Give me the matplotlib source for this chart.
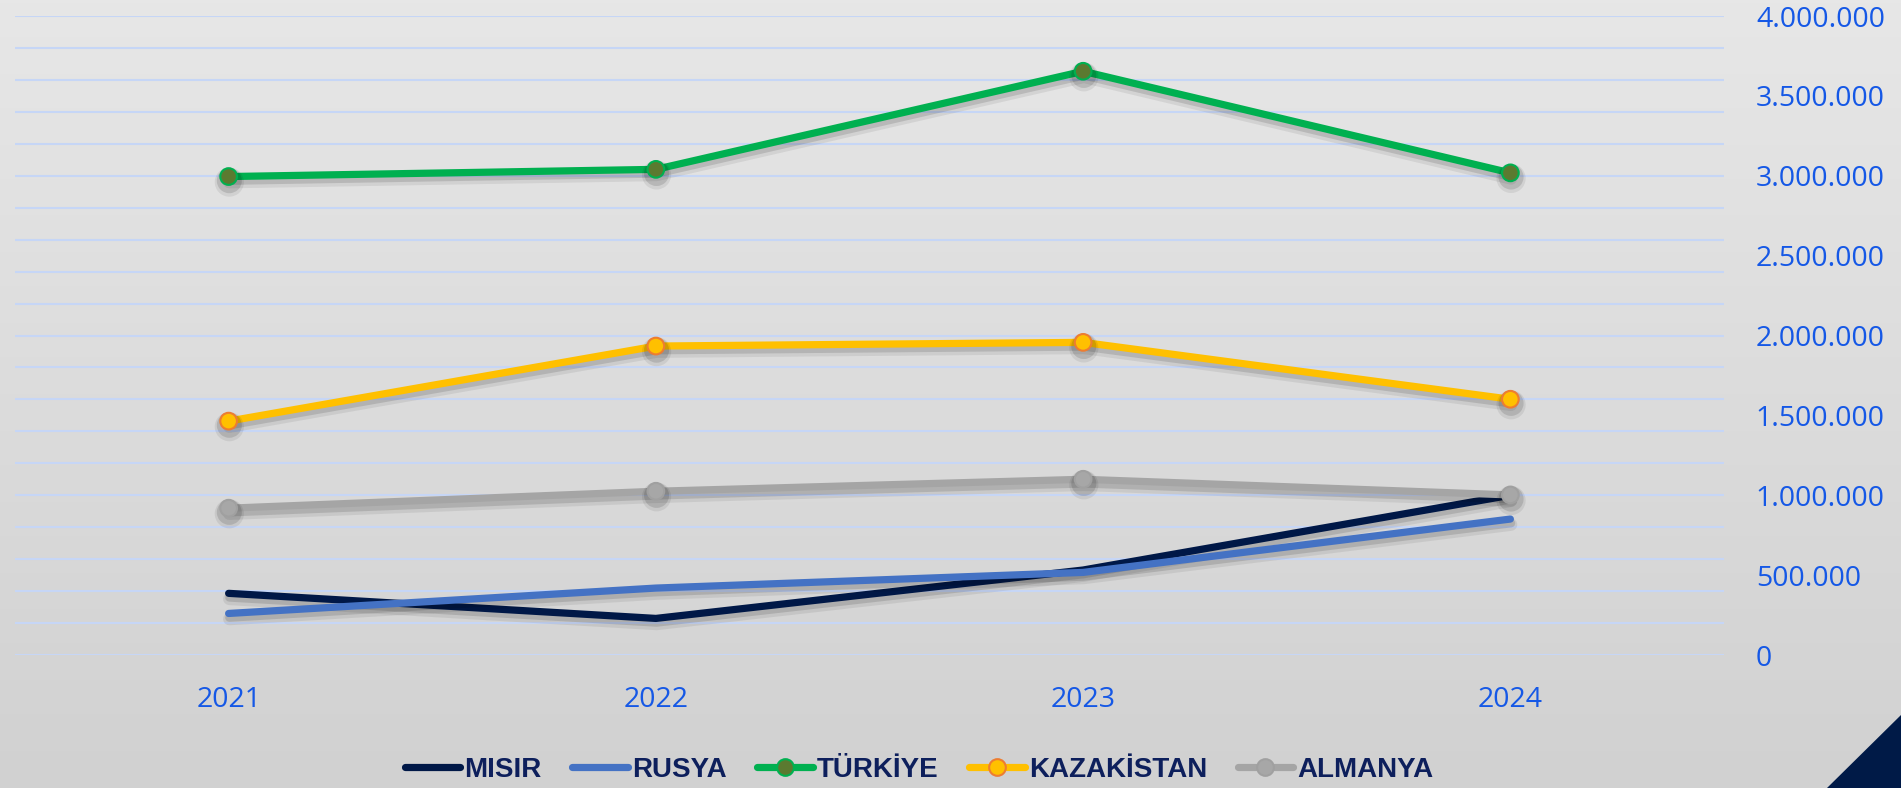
import numpy as np
import matplotlib
matplotlib.use('Agg')
import matplotlib.pyplot as plt
import matplotlib.patheffects as pe
from matplotlib.patches import Polygon
from matplotlib.ticker import FuncFormatter, MultipleLocator

# --- data ---
years = ['2021', '2022', '2023', '2024']
misir = [386000, 229000, 532000, 1000000]
rusya = [260000, 419000, 517000, 851000]
turkiye = [2995000, 3040000, 3654000, 3018000]
kazakistan = [1464000, 1934000, 1957000, 1601000]
almanya = [919000, 1025000, 1100000, 1002000]

W, H, DPI = 1901, 788, 100
fig = plt.figure(figsize=(W / DPI, H / DPI), dpi=DPI)

# gradient background
bg = fig.add_axes([0, 0, 1, 1], zorder=-10)
grad = np.linspace(231, 209, 256).reshape(-1, 1) / 255.0
bg.imshow(np.dstack([grad, grad, grad]), aspect='auto', extent=[0, 1, 0, 1])
bg.axis('off')

# navy corner triangle
fig.patches.append(Polygon([[1827 / W, 0], [1, 1 - 715 / H], [1, 0]], closed=True,
                           transform=fig.transFigure, facecolor='#001a47', edgecolor='none'))

ax = fig.add_axes([15 / W, (H - 655) / H, (1724 - 15) / W, (655 - 16) / H])
ax.set_facecolor('none')
x = np.arange(len(years)) + 0.5

# soft shadow under the lines
shadow = [pe.SimpleLineShadow(offset=(0.5, -4), alpha=0.07, shadow_color='black', linewidth=9),
          pe.SimpleLineShadow(offset=(0.5, -3), alpha=0.12, shadow_color='black', linewidth=6),
          pe.Normal()]

series = [
    ('MISIR', misir, '#001847', None, None),
    ('RUSYA', rusya, '#4472c4', None, None),
    ('TÜRKİYE', turkiye, '#00b050', '#5b7a30', '#00b050'),
    ('KAZAKİSTAN', kazakistan, '#ffc000', '#ffc000', '#ed7d31'),
    ('ALMANYA', almanya, '#a5a5a5', '#a7a7a7', '#a0a0a0'),
]
for name, vals, col, mface, medge in series:
    if mface is None:
        ax.plot(x, vals, color=col, lw=5.2, solid_capstyle='round', label=name,
                path_effects=shadow, zorder=3)
    else:
        ax.plot(x, vals, color=col, lw=5.2, solid_capstyle='round', label=name,
                marker='o', markersize=12, markerfacecolor=mface, markeredgecolor=medge,
                markeredgewidth=1.5, path_effects=shadow, zorder=3)

ax.set_xlim(0, 4)
ax.set_ylim(0, 4000000)
ax.yaxis.set_major_locator(MultipleLocator(500000))
ax.grid(False)
for v in np.arange(0, 4000001, 200000):
    ax.axhline(v, color='#c6d6f6', lw=1.5, zorder=1)

ax.yaxis.tick_right()
ax.yaxis.set_major_formatter(FuncFormatter(lambda v, p: f"{int(v):,}".replace(',', '.')))
ax.set_xticks(x)
ax.set_xticklabels(years)
ax.tick_params(axis='both', length=0, which='both', labelcolor='#1558e6', labelsize=20.5)
ax.tick_params(axis='y', pad=23)
ax.tick_params(axis='x', pad=22)
for lab in ax.get_xticklabels() + ax.get_yticklabels():
    lab.set_fontfamily(['Open Sans', 'DejaVu Sans'])
for lab in ax.get_yticklabels():
    lab.set_horizontalalignment('left')
for s in ax.spines.values():
    s.set_visible(False)

leg = fig.legend(loc='center', bbox_to_anchor=(919 / W, 1 - 770 / H), ncol=5, frameon=False,
                 handlelength=2.0, handletextpad=0.15, columnspacing=1.1,
                 prop={'family': ['Liberation Sans', 'DejaVu Sans'], 'weight': 'bold', 'size': 20})
for t in leg.get_texts():
    t.set_color('#0d1f5c')
for h in leg.legend_handles:
    h.set_path_effects([])

fig.savefig('out.png', dpi=DPI)
